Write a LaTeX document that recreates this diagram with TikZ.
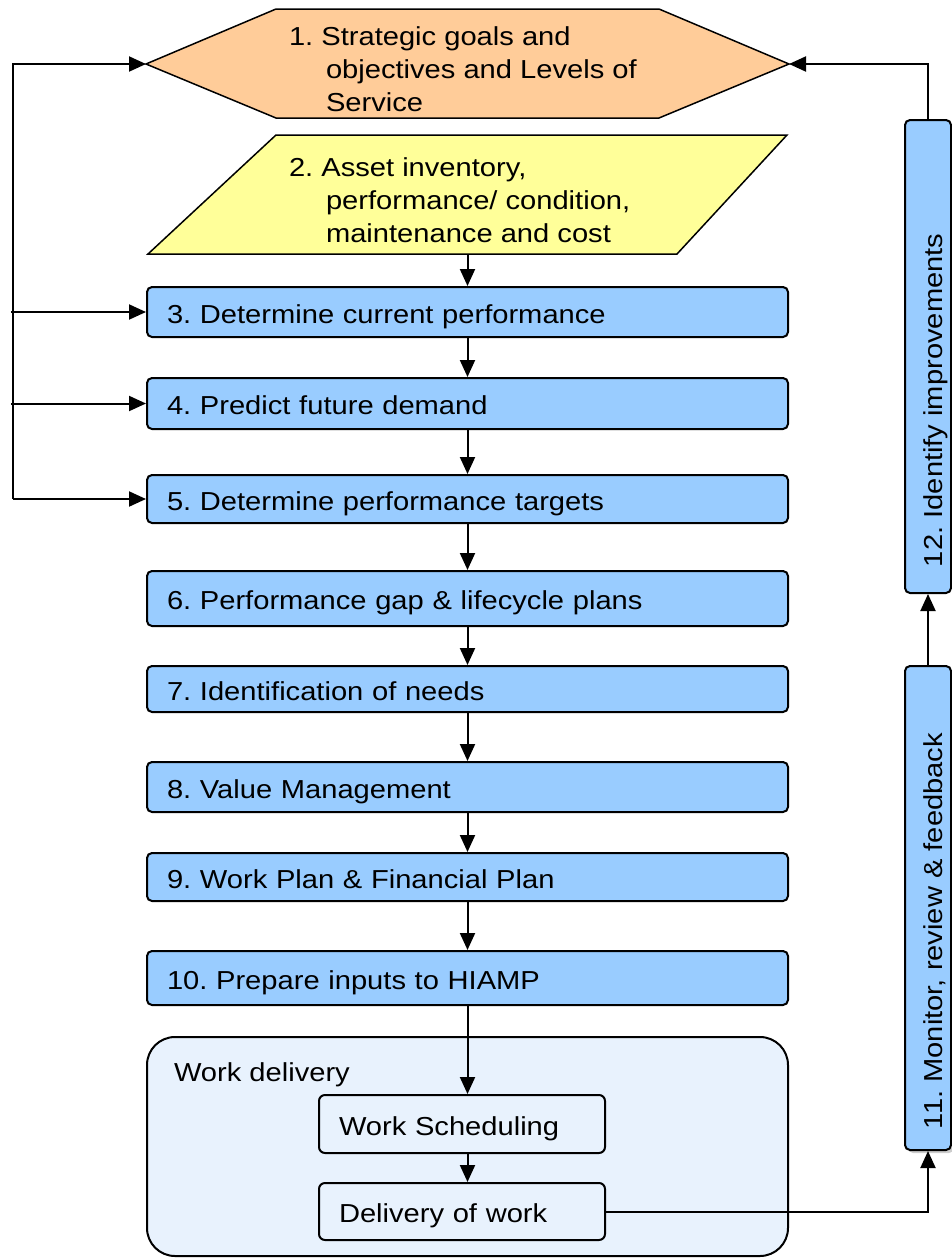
\documentclass[tikz,border=0pt]{standalone}
\usepackage{fontspec}
\setmainfont{Liberation Sans}[FakeStretch=1.12]
\usepackage{tikz}
\usetikzlibrary{arrows.meta,shadows}
\definecolor{goalPeach}{RGB}{255,204,153}
\definecolor{assetYellow}{RGB}{255,255,153}
\definecolor{stepBlue}{RGB}{153,204,255}
\definecolor{deliveryBlue}{RGB}{232,242,253}
\frenchspacing

\begin{document}
\begin{tikzpicture}[x=1pt,y=-1pt,line width=2pt,
  font=\fontsize{26}{33}\selectfont,
  flow/.style={-{Triangle[length=17pt,width=15pt]}},
  stepbox/.style={draw,fill=stepBlue,rounded corners=5pt,
    text width=601pt,inner xsep=20pt,inner ysep=0pt,align=left,
    text height=28pt,text depth=6pt},
  workbox/.style={draw,fill=deliveryBlue,rounded corners=6pt,
    text width=246pt,inner xsep=20pt,inner ysep=0pt,align=left,
    text height=28pt,text depth=6pt},
  sidebox/.style={draw,fill=stepBlue,rounded corners=5pt,minimum width=46pt},
  sidetext/.style={rotate=90,anchor=base west,inner sep=0pt}]
 \useasboundingbox (0,0) rectangle (952,1259);

 % goals hexagon and inventory parallelogram
 \coordinate (goalsW) at (146,64);
 \coordinate (goalsE) at (789,64);
 \draw[fill=goalPeach,line width=1.5pt] (goalsW) -- (276,9) -- (659,9)
   -- (goalsE) -- (659,118) -- (276,118) -- cycle;
 \node[anchor=north west,align=left,inner sep=0pt] (goals) at (288,26)
   {1. Strategic goals and\\\hspace*{37pt}objectives and Levels of\\\hspace*{37pt}Service};
 \draw[fill=assetYellow,line width=1.5pt] (276,135) -- (787,135) -- (677,254)
   -- (148,254) -- cycle;
 \coordinate (invBottom) at (467.5,254);
 \node[anchor=north west,align=left,inner sep=0pt] (inventory) at (288,157)
   {2. Asset inventory,\\\hspace*{37pt}performance/ condition,\\\hspace*{37pt}maintenance and cost};

 % main steps
 \node[stepbox,minimum height=50pt] (current) at (467.5,312) {3. Determine current performance};
 \node[stepbox,minimum height=51pt] (demand) at (467.5,403.5) {4. Predict future demand};
 \node[stepbox,minimum height=48pt] (targets) at (467.5,499) {5. Determine performance targets};
 \node[stepbox,minimum height=55pt] (gap) at (467.5,598.5) {6. Performance gap \& lifecycle plans};
 \node[stepbox,minimum height=46pt] (needs) at (467.5,689) {7. Identification of needs};
 \node[stepbox,minimum height=50pt] (value) at (467.5,787) {8. Value Management};
 \node[stepbox,minimum height=48pt] (workplan) at (467.5,877) {9. Work Plan \& Financial Plan};
 \node[stepbox,minimum height=54pt] (hiamp) at (467.5,978) {10. Prepare inputs to HIAMP};

 % work delivery group
 \node[draw,fill=deliveryBlue,rounded corners=28pt,minimum width=641pt,
   minimum height=219pt] (delivery) at (467.5,1146.5) {};
 \node[anchor=base west,inner sep=0pt] (deliveryLabel) at (173,1081) {Work delivery};
 \node[workbox,minimum height=58pt] (sched) at (462,1124) {Work Scheduling};
 \node[workbox,minimum height=57pt] (dowork) at (462,1211.5) {Delivery of work};

 % monitoring column
 \node[sidebox,minimum height=473pt] (improve) at (928,356.5) {};
 \node[sidetext] (improveText) at (942,568) {12. Identify improvements};
 \node[sidebox,minimum height=484pt,
   drop shadow={shadow xshift=3pt,shadow yshift=-3pt,fill=black!40}] (monitor) at (928,908) {};
 \node[sidetext] (monitorText) at (942,1130) {11. Monitor, review \& feedback};

 % downward flow
 \draw[flow] (invBottom) -- (current.north);
 \draw[flow] (current) -- (demand);
 \draw[flow] (demand) -- (targets);
 \draw[flow] (targets) -- (gap);
 \draw[flow] (gap) -- (needs);
 \draw[flow] (needs) -- (value);
 \draw[flow] (value) -- (workplan);
 \draw[flow] (workplan) -- (hiamp);
 \draw[flow] (hiamp.south) -- (hiamp.south |- sched.north);
 \draw[flow] (sched.south -| hiamp.south) -- (dowork.north -| hiamp.south);

 % feedback on the left
 \coordinate (loopX) at (13,0);
 \draw[flow] (targets.west -| loopX) |- (goalsW);
 \draw[flow] (targets.west -| loopX) -- (targets.west);
 \draw[flow] ([xshift=-2pt]current.west -| loopX) -- (current.west);
 \draw[flow] ([xshift=-2pt]demand.west -| loopX) -- (demand.west);

 % feedback on the right
 \draw[flow] (dowork.east) -| (monitor.south);
 \draw[flow] (monitor.north) -- (improve.south);
 \draw[flow] (improve.north) |- (goalsE);
\end{tikzpicture}
\end{document}
